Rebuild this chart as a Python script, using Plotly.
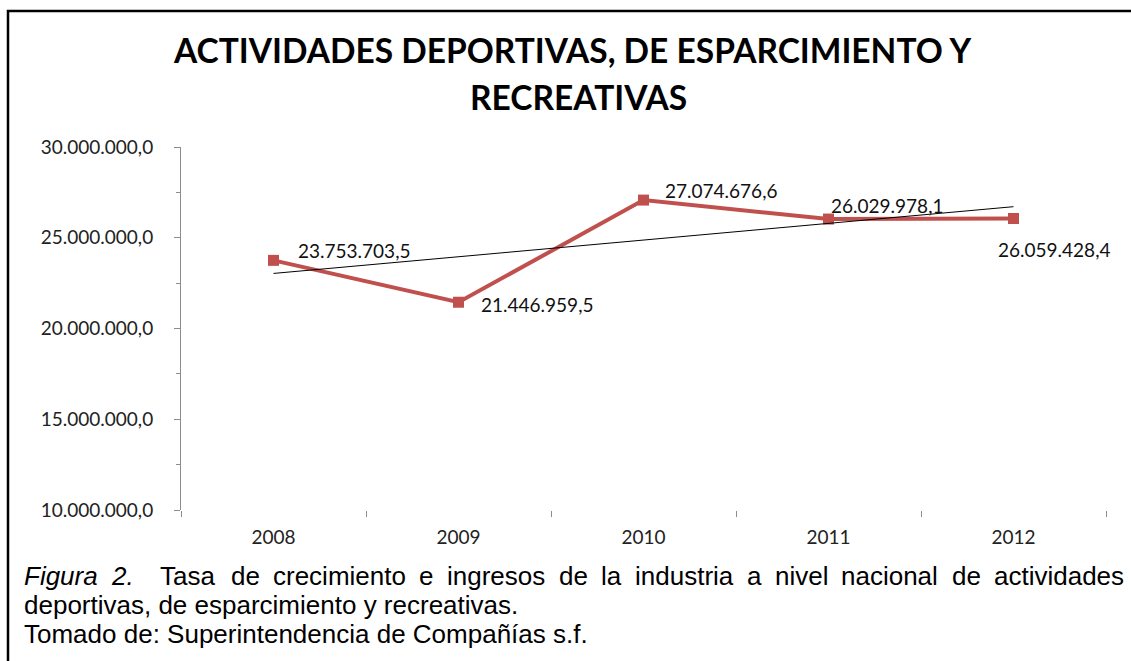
import numpy as np
import plotly.graph_objects as go

# Ingresos anuales del sector (USD)
years = ["2008", "2009", "2010", "2011", "2012"]
ingresos = [23753703.5, 21446959.5, 27074676.6, 26029978.1, 26059428.4]

y_ticks = [10000000, 15000000, 20000000, 25000000, 30000000]

title_lines = ["ACTIVIDADES DEPORTIVAS, DE ESPARCIMIENTO Y", "RECREATIVAS"]
caption_line1 = ["Figura", "2.", "Tasa", "de", "crecimiento", "e", "ingresos", "de",
                 "la", "industria", "a", "nivel", "nacional", "de", "actividades"]
caption_line2 = "deportivas, de esparcimiento y recreativas."
caption_line3 = "Tomado de: Superintendencia de Compañías s.f."

# Canvas geometry (pixels)
W, H = 1131, 661
ML, MR, MT, MB = 181, 25, 147, 151
PW, PH = W - ML - MR, H - MT - MB


def px_x(p):
    return (p - ML) / PW


def px_y(p):
    return (H - MB - p) / PH


def es_num(v):
    s = f"{v:,.1f}"
    return s.replace(",", "#").replace(".", ",").replace("#", ".")


# Linear trend over the category index
idx = np.arange(len(ingresos))
slope, intercept = np.polyfit(idx, ingresos, 1)
trend = slope * idx + intercept

RED = "#C0504D"
fig = go.Figure()
fig.add_trace(go.Scatter(
    x=years, y=ingresos, mode="lines+markers",
    line=dict(color=RED, width=4),
    marker=dict(symbol="square", size=11, color=RED),
    hoverinfo="skip",
))
fig.add_trace(go.Scatter(
    x=years, y=trend, mode="lines",
    line=dict(color="black", width=1),
    hoverinfo="skip",
))

# Data labels: (xshift, yshift) in pixels from each point
label_offsets = [(22, 10), (20, -2), (19, 10), (0, 14), (-18, -31)]
annotations = []
for i, (v, (dx, dy)) in enumerate(zip(ingresos, label_offsets)):
    annotations.append(dict(
        x=i, y=v, xref="x", yref="y", text=es_num(v), showarrow=False,
        xanchor="left", yanchor="middle", xshift=dx, yshift=dy,
        font=dict(family="Lato", size=19, color="#111111"),
    ))

# Chart title
for text, cx, cy in zip(title_lines, [572, 578], [50, 97]):
    annotations.append(dict(
        x=px_x(cx), y=px_y(cy), xref="paper", yref="paper", text=f"<b>{text}</b>",
        showarrow=False, xanchor="center", yanchor="middle",
        font=dict(family="Lato", size=33.5, color="black"),
    ))

# Caption, first line justified between the two margins
ARIAL = {
    " ": 278, ".": 278, ",": 278, ":": 278, "2": 556,
    "F": 611, "T": 611, "C": 722, "S": 667,
    "a": 556, "c": 500, "d": 556, "e": 556, "f": 278, "g": 556, "i": 222,
    "l": 222, "m": 833, "n": 556, "o": 556, "p": 556, "r": 333, "s": 500,
    "t": 278, "u": 556, "v": 500, "y": 500, "ñ": 556, "í": 278,
}
CAP_SIZE = 26
CAP_LEFT, CAP_RIGHT = 23, 1123


def text_w(s):
    return sum(ARIAL.get(ch, 556) for ch in s) / 1000 * CAP_SIZE


widths = [text_w(w) for w in caption_line1]
gap_units = [1] * (len(caption_line1) - 1)
gap_units[1] = 2  # double space after "2."
gap = (CAP_RIGHT - CAP_LEFT - sum(widths)) / sum(gap_units)
xpos = CAP_LEFT
cap_font = dict(family="Liberation Sans", size=CAP_SIZE, color="black")
for i, word in enumerate(caption_line1):
    txt = f"<i>{word}</i>" if i < 2 else word
    annotations.append(dict(
        x=px_x(xpos), y=px_y(576), xref="paper", yref="paper", text=txt,
        showarrow=False, xanchor="left", yanchor="middle", font=cap_font,
        borderpad=0,
    ))
    if i < len(gap_units):
        xpos += widths[i] + gap * gap_units[i]

for text, cy in [(caption_line2, 605), (caption_line3, 634)]:
    annotations.append(dict(
        x=px_x(CAP_LEFT), y=px_y(cy), xref="paper", yref="paper", text=text,
        showarrow=False, xanchor="left", yanchor="middle", font=cap_font,
        borderpad=0,
    ))

fig.update_layout(
    width=W, height=H,
    margin=dict(l=ML, r=MR, t=MT, b=MB, pad=0),
    paper_bgcolor="white", plot_bgcolor="white",
    showlegend=False,
    separators=",.",
    annotations=annotations,
    shapes=[dict(
        type="rect", xref="paper", yref="paper",
        x0=px_x(8), x1=px_x(1145), y0=px_y(680), y1=px_y(11),
        line=dict(color="black", width=2.5), layer="above",
    )],
    xaxis=dict(
        type="category", range=[-0.5, 4.5], tickson="boundaries",
        ticks="outside", ticklen=6, tickcolor="#8c8c8c", tickwidth=1,
        showline=False, showgrid=False, zeroline=False, ticklabelstandoff=14,
        tickfont=dict(family="Lato", size=19, color="#222222"),
    ),
    yaxis=dict(
        range=[10000000, 30000000], tickvals=y_ticks, tickformat=",.1f",
        ticks="outside", ticklen=6, tickcolor="#8c8c8c", tickwidth=1,
        minor=dict(dtick=2500000, ticks="outside", ticklen=4, tickcolor="#8c8c8c"),
        showline=True, linecolor="#8c8c8c", linewidth=1,
        showgrid=False, zeroline=False, ticklabelstandoff=17,
        tickfont=dict(family="Lato", size=19, color="#222222"),
    ),
)

fig.write_html("out.html")
